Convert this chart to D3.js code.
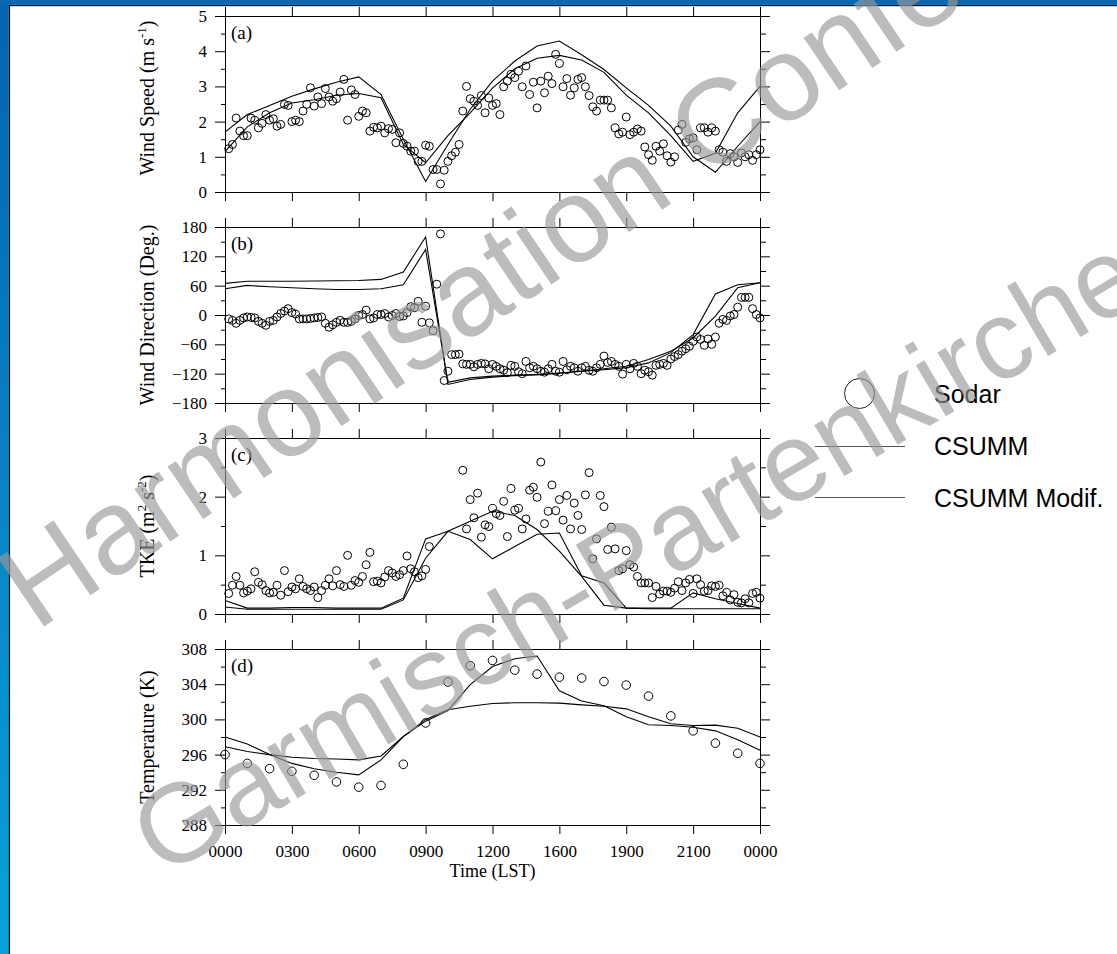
<!DOCTYPE html>
<html>
<head>
<meta charset="utf-8">
<script src="https://cdnjs.cloudflare.com/ajax/libs/d3/7.8.5/d3.min.js"></script>
<style>
  body { margin: 0; background: #fff; }
  svg { display: block; }
  .axis text { font-family: "Liberation Serif", "Times New Roman", serif; font-size: 17px; fill: #000; }
  .axis path, .axis line { stroke: #000; stroke-width: 1; }
  .title { font-family: "Liberation Serif", "Times New Roman", serif; font-size: 20px; fill: #000; }
  .legend text { font-family: "Liberation Sans", Arial, sans-serif; font-size: 25px; fill: #000; }
  .mark { font-family: "Liberation Sans", Arial, sans-serif; fill: #999; opacity: 0.65; }
</style>
</head>
<body>
<div id="chart"></div>
<script>
// page size
var svgWidth = 1117;
var svgHeight = 954;

// ---- data ----
var xTicks = [0, 3, 6, 9, 12, 15, 18, 21, 24];
var xTickLabels = ["0000", "0300", "0600", "0900", "1200", "1600", "1900", "2100", "0000"];

// model output, hourly
var modelHours = [0, 1, 2, 3, 4, 5, 6, 7, 8, 9, 10, 11, 12, 13, 14, 15, 16, 17, 18, 19, 20, 21, 22, 23, 24];

// sodar, every 10 minutes from 00:10 to 24:00
var sodarStepHours = 1 / 6;

var speedSodar = [
  1.23, 1.35, 2.10, 1.73, 1.60, 1.60, 2.10, 2.04, 1.82, 1.95,
  2.20, 2.04, 2.08, 1.87, 1.92, 2.49, 2.46, 2.00, 2.04, 2.00,
  2.30, 2.49, 2.96, 2.44, 2.70, 2.51, 2.94, 2.70, 2.58, 2.65,
  2.84, 3.20, 2.04, 2.90, 2.77, 2.15, 2.30, 2.25, 1.73, 1.84,
  1.82, 1.87, 1.68, 1.80, 1.78, 1.40, 1.68,
  1.38, 1.30, 1.16, 1.16, 0.87, 0.87, 1.33, 1.30, 0.64, 0.64,
  0.23, 0.62, 0.87, 1.03, 1.13, 1.35, 2.30, 3.00, 2.65, 2.58,
  2.46, 2.74, 2.25, 2.67, 2.46, 2.51, 2.20, 2.99, 3.15, 3.34,
  3.25, 3.43, 2.99, 3.58, 2.77, 3.12, 2.39, 3.15, 2.82, 3.29,
  3.08, 3.91, 3.65, 2.99, 3.22, 2.75, 2.96, 3.20, 3.25, 2.99,
  2.74, 2.42, 2.30, 2.61, 2.61, 2.61, 2.39, 1.82, 1.65, 1.70,
  2.13, 1.63, 1.70, 1.79, 1.73, 1.28, 1.06, 0.90, 1.30, 1.16,
  1.37, 1.03, 0.85, 1.00, 1.76, 1.92, 1.41, 1.51, 1.54, 1.20,
  1.82, 1.82, 1.70, 1.82, 1.73, 1.20, 1.13, 0.87, 1.09, 1.00,
  0.84, 1.11, 1.00, 1.06, 0.90, 1.06, 1.20
];
var speedCsumm = [1.70, 2.20, 2.46, 2.72, 2.93, 3.12, 3.27, 2.77, 1.50, 0.30, 1.35, 2.35, 3.15,
  3.72, 4.15, 4.29, 3.90, 3.48, 2.96, 2.46, 1.87, 1.00, 0.56, 1.30, 2.00];
var speedModif = [1.15, 1.85, 2.25, 2.53, 2.62, 2.75, 2.80, 2.68, 1.35, 0.83, 1.60, 2.25, 2.95,
  3.50, 3.80, 3.88, 3.75, 3.40, 2.75, 2.25, 1.60, 0.87, 1.10, 2.25, 3.00];

var dirSodar = [
  -8, -11, -17, -11, -6, -4, -5, -6, -13, -17,
  -21, -13, -11, -4, 3, 8, 13, 5, 2, -8,
  -8, -8, -7, -6, -5, -4, -17, -25, -20, -15,
  -11, -15, -15, -13, -8, -1, 1, 10, -8, -6,
  1, 1, 3, -4, -1, 3,
  -3, -2, 5, 17, 15, 28, -15, 18, -16, -32,
  63, 166, -134, -115, -81, -81, -80, -100, -101, -101,
  -106, -101, -99, -100, -110, -101, -105, -110, -113, -118,
  -103, -105, -116, -120, -95, -108, -105, -110, -115, -117,
  -110, -101, -115, -117, -95, -112, -105, -108, -115, -108,
  -105, -113, -115, -108, -101, -84, -97, -95, -101, -105,
  -121, -101, -110, -99, -105, -120, -113, -116, -123, -103,
  -101, -99, -103, -90, -85, -81, -74, -69, -64, -54,
  -45, -50, -62, -49, -60, -45, -17, -9, -11, -2,
  1, 16, 36, 36, 36, 13, 1, -6
];
var dirCsumm = [64.6, 69, 69, 69, 69.5, 70, 70.7, 72.8, 88, 159.5, -142, -132, -127,
  -124, -122, -118.5, -115, -112, -108, -98, -77, -40, 43, 62, 66];
var dirModif = [53.6, 60.5, 57.7, 55.7, 53.6, 52.3, 52.3, 53.6, 62, 134, -137.6, -128.7, -125,
  -123, -122, -119, -115, -110, -105, -91, -74, -47, -2.4, 55.7, 66];

var tkeSodar = [
  0.35, 0.49, 0.64, 0.49, 0.36, 0.39, 0.43, 0.72, 0.54, 0.50,
  0.40, 0.36, 0.37, 0.49, 0.32, 0.74, 0.38, 0.46, 0.43, 0.60,
  0.47, 0.43, 0.40, 0.46, 0.28, 0.40, 0.49, 0.60, 0.48, 0.74,
  0.50, 0.47, 1.00, 0.49, 0.57, 0.54, 0.64, 0.84, 1.05, 0.55,
  0.56, 0.53, 0.63, 0.74, 0.70, 0.64,
  0.67, 0.74, 0.99, 0.77, 0.72, 0.62, 0.65, 0.76, 1.15, null,
  null, null, null, null, null, null, null, 2.45, 1.45, 1.95,
  1.64, 2.06, 1.31, 1.52, 1.49, 1.80, 1.71, 1.68, 1.92, 1.32,
  2.14, 1.77, 1.80, 1.45, 1.62, 2.11, 2.16, 1.99, 2.59, 1.54,
  1.75, 2.20, 1.76, 1.95, 1.60, 2.02, 1.45, 1.89, 1.68, 1.44,
  2.03, 2.41, 0.94, 1.28, 2.02, 1.83, 1.10, 1.48, 1.11, 0.74,
  0.77, 1.08, 0.84, 0.80, 0.64, 0.53, 0.53, 0.53, 0.28, 0.47,
  0.34, 0.39, 0.39, 0.37, 0.44, 0.55, 0.40, 0.53, 0.59, 0.35,
  0.60, 0.50, 0.39, 0.40, 0.48, 0.47, 0.49, 0.31, 0.37, 0.24,
  0.33, 0.20, 0.19, 0.26, 0.19, 0.35, 0.37, 0.27
];
var tkeCsumm = [0.23, 0.10, 0.10, 0.11, 0.11, 0.10, 0.10, 0.10, 0.27, 1.28, 1.41, 1.27, 0.94,
  1.15, 1.36, 1.38, 0.65, 0.53, 0.10, 0.10, 0.10, 0.36, 0.26, 0.18, 0.10];
var tkeModif = [0.12, 0.08, 0.08, 0.08, 0.08, 0.08, 0.08, 0.08, 0.24, 0.95, 1.41, 1.58, 1.75,
  1.68, 1.44, 1.07, 0.64, 0.15, 0.10, 0.09, 0.09, 0.09, 0.09, 0.09, 0.09];

// temperature, hourly
var tempSodar = [296.0, 295.0, 294.4, 294.1, 293.65, 292.9, 292.3, 292.5, 294.9, 299.6, 304.25, 306.1, 306.7,
  305.6, 305.15, 304.8, 304.7, 304.3, 303.9, 302.65, 300.4, 298.7, 297.3, 296.15, 295.0];
var tempCsumm = [296.9, 296.35, 296.0, 295.7, 295.55, 295.5, 295.4, 295.85, 298.05, 299.8, 301.0, 303.95, 306.0,
  306.9, 307.2, 303.25, 302.1, 301.55, 300.3, 299.4, 299.3, 299.1, 298.7, 297.7, 296.5];
var tempModif = [298.0, 297.2, 296.0, 295.0, 294.4, 294.0, 293.7, 295.4, 298.05, 300.0, 301.1, 301.5, 301.8,
  301.9, 301.9, 301.85, 301.65, 301.5, 301.2, 300.3, 299.5, 299.3, 299.35, 299.0, 298.0];

var legendLabels = ["Sodar", "CSUMM", "CSUMM Modif."];
var watermarks = ["Harmonisation Conference", "Garmisch-Partenkirchen"];
// ---- end data ----

var plotLeft = 225;
var plotRight = 760;
var panelTop0 = 16;
var panelHeight = 176;
var panelStep = 211;

var sodarHours = speedSodar.map((d, i) => (i + 1) * sodarStepHours);

var panels = [
  { tag: "(a)", title: [["Wind Speed (m s", 0], ["-1", 1], [")", 0]], domain: [0, 5], major: d3.range(0, 6, 1), minor: d3.range(0.5, 5, 1),
    obs: speedSodar, obsHours: sodarHours, runs: [speedCsumm, speedModif], r: 4, titleShift: -6 },
  { tag: "(b)", title: [["Wind Direction (Deg.)", 0]], domain: [-180, 180], major: d3.range(-180, 181, 60), minor: d3.range(-150, 180, 60),
    obs: dirSodar, obsHours: sodarHours, runs: [dirCsumm, dirModif], r: 4, titleShift: 0 },
  { tag: "(c)", title: [["TKE (m", 0], ["2", 1], [" s", 0], ["-2", 1], [")", 0]], domain: [0, 3], major: d3.range(0, 4, 1), minor: d3.range(0.5, 3, 1),
    obs: tkeSodar, obsHours: sodarHours, runs: [tkeCsumm, tkeModif], r: 4, titleShift: 0 },
  { tag: "(d)", title: [["Temperature (K)", 0]], domain: [288, 308], major: d3.range(288, 309, 4), minor: d3.range(290, 308, 4),
    obs: tempSodar, obsHours: modelHours, runs: [tempCsumm, tempModif], r: 4.3, titleShift: 0 }
];

var svg = d3.select("#chart")
  .append("svg")
  .attr("width", svgWidth)
  .attr("height", svgHeight);

// white page with the blue slide frame on the top and left
svg.append("rect").attr("width", svgWidth).attr("height", svgHeight).attr("fill", "#fff");

var grad = svg.append("defs").append("linearGradient")
  .attr("id", "frameBlue")
  .attr("x1", 0).attr("y1", 0).attr("x2", 0).attr("y2", 1);
grad.append("stop").attr("offset", "0%").attr("stop-color", "#0763ad");
grad.append("stop").attr("offset", "100%").attr("stop-color", "#0aa2d4");

svg.append("rect").attr("x", 0).attr("y", 0).attr("width", 8.5).attr("height", svgHeight).attr("fill", "url(#frameBlue)");
svg.append("rect").attr("x", 0).attr("y", 0).attr("width", svgWidth).attr("height", 4.8).attr("fill", "#0868b1");
svg.append("rect").attr("x", 8.5).attr("y", 4.8).attr("width", 1.6).attr("height", svgHeight).attr("fill", "#111");
svg.append("rect").attr("x", 8.5).attr("y", 4.8).attr("width", svgWidth).attr("height", 1.4).attr("fill", "#111");

var x = d3.scaleLinear().domain([0, 24]).range([plotLeft, plotRight]);

panels.forEach(function(p, i) {
  var top = panelTop0 + i * panelStep;
  var bottom = top + panelHeight;

  var y = d3.scaleLinear().domain(p.domain).range([bottom, top]);

  var g = svg.append("g");

  // y axes, left with labels, right without
  g.append("g")
    .attr("class", "axis")
    .attr("transform", `translate(${plotLeft}, 0)`)
    .call(d3.axisLeft(y).tickValues(p.major).tickSize(10).tickSizeOuter(0).tickPadding(8).tickFormat(d3.format("d")));
  g.append("g")
    .attr("class", "axis")
    .attr("transform", `translate(${plotLeft}, 0)`)
    .call(d3.axisLeft(y).tickValues(p.minor).tickSize(4).tickFormat(""))
    .select(".domain").remove();
  g.append("g")
    .attr("class", "axis")
    .attr("transform", `translate(${plotRight}, 0)`)
    .call(d3.axisRight(y).tickValues(p.major).tickSize(10).tickSizeOuter(0).tickFormat(""));
  g.append("g")
    .attr("class", "axis")
    .attr("transform", `translate(${plotRight}, 0)`)
    .call(d3.axisRight(y).tickValues(p.minor).tickSize(6).tickFormat(""))
    .select(".domain").remove();

  // x axes, top and bottom
  g.append("g")
    .attr("class", "axis")
    .attr("transform", `translate(0, ${top})`)
    .call(d3.axisTop(x).tickValues(xTicks).tickSize(9).tickSizeOuter(0).tickFormat(""));
  g.append("g")
    .attr("class", "axis")
    .attr("transform", `translate(0, ${bottom})`)
    .call(d3.axisBottom(x).tickValues(xTicks).tickSize(9).tickSizeOuter(0).tickPadding(11)
      .tickFormat((d, k) => i === panels.length - 1 ? xTickLabels[k] : ""));

  // model runs
  var line = d3.line()
    .x((d, k) => x(modelHours[k]))
    .y(d => y(d));

  p.runs.forEach(function(run) {
    g.append("path")
      .datum(run)
      .attr("d", line)
      .attr("fill", "none")
      .attr("stroke", "#000")
      .attr("stroke-width", 1.1);
  });

  // sodar points
  var pts = p.obs.map((v, k) => ({ h: p.obsHours[k], v: v })).filter(d => d.v !== null);
  g.selectAll(null)
    .data(pts)
    .enter()
    .append("circle")
    .attr("cx", d => x(d.h))
    .attr("cy", d => y(d.v))
    .attr("r", p.r)
    .attr("fill", "none")
    .attr("stroke", "#000")
    .attr("stroke-width", 1);

  // panel tag
  g.append("text")
    .attr("class", "title")
    .attr("x", plotLeft + 6)
    .attr("y", top + 23)
    .style("font-size", "19px")
    .text(p.tag);

  // y title
  var t = g.append("text")
    .attr("class", "title")
    .attr("text-anchor", "middle")
    .attr("transform", `translate(154, ${(top + bottom) / 2 + p.titleShift}) rotate(-90)`);
  var shifted = 0;
  p.title.forEach(function(part) {
    var sp = t.append("tspan").text(part[0]);
    if (part[1] && !shifted) { sp.attr("dy", -8).style("font-size", "13px"); shifted = 1; }
    else if (part[1]) { sp.style("font-size", "13px"); }
    else if (shifted) { sp.attr("dy", 8); shifted = 0; }
  });
});

// x title
svg.append("text")
  .attr("class", "title")
  .attr("text-anchor", "middle")
  .attr("x", (plotLeft + plotRight) / 2)
  .attr("y", 877)
  .style("font-size", "18px")
  .text("Time (LST)");

// legend
var legend = svg.append("g").attr("class", "legend");
legend.append("circle")
  .attr("cx", 859.5).attr("cy", 393.5).attr("r", 15)
  .attr("fill", "none").attr("stroke", "#222").attr("stroke-width", 1);
[446.5, 497.5].forEach(function(ly) {
  legend.append("line")
    .attr("x1", 815).attr("x2", 905).attr("y1", ly).attr("y2", ly)
    .attr("stroke", "#555").attr("stroke-width", 1);
});
legend.selectAll("text")
  .data(legendLabels)
  .enter()
  .append("text")
  .attr("x", 934)
  .attr("y", (d, k) => [403, 455, 506.5][k])
  .text(d => d);

// conference watermark across the slide
svg.append("text")
  .attr("class", "mark")
  .style("font-size", "120px")
  .attr("transform", "translate(36, 632) rotate(-34)")
  .text(watermarks[0]);
svg.append("text")
  .attr("class", "mark")
  .style("font-size", "112px")
  .attr("transform", "translate(162, 878) rotate(-30.5)")
  .text(watermarks[1]);
</script>
</body>
</html>
